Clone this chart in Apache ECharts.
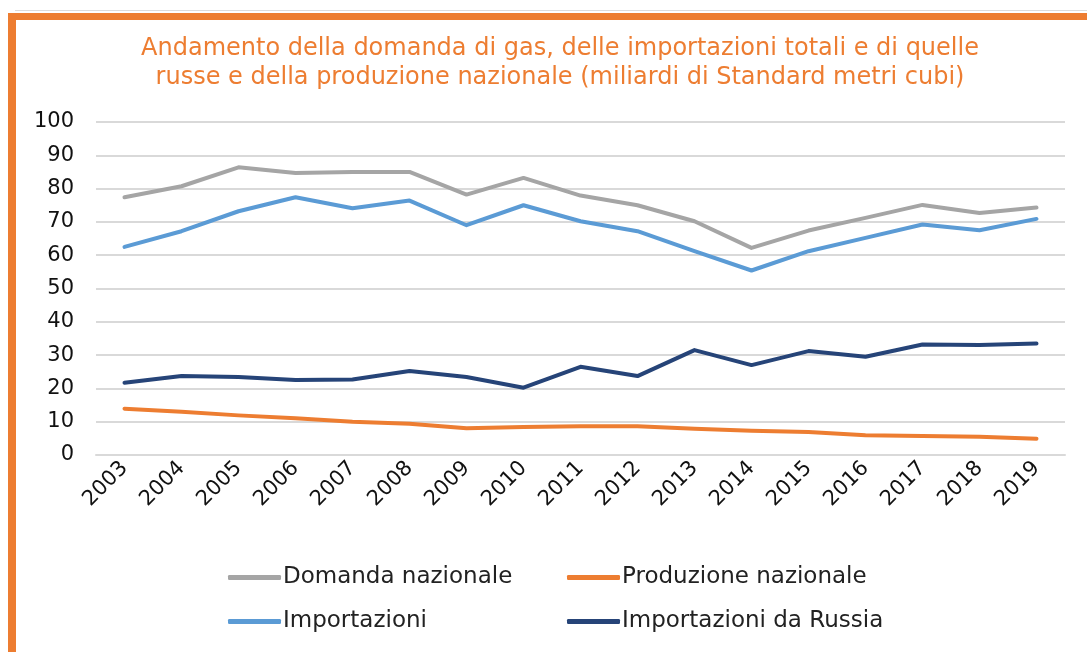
<!DOCTYPE html>
<html lang="it">
<head>
    <meta charset="UTF-8">
    <title>gas</title>
    <script src="https://cdn.jsdelivr.net/npm/echarts@6/dist/echarts.min.js"></script>
    <style>
        body{ margin:0; background:#fff; }
        #main{ position:absolute; left:0; top:0; width:1087px; height:652px; }
        .frame{
            position:absolute; left:8px; top:13px; right:0; bottom:0;
            border-top:7px solid #ED7D31;
            border-left:8px solid #ED7D31;
            pointer-events:none;
        }
        .topline{ position:absolute; left:15px; right:0; top:10px; height:1px; background:#dcdcdc; }
    </style>
</head>
<body>
    <div id="main"></div>
    <div class="topline"></div>
    <div class="frame"></div>
<script>
    var anni = ['2003','2004','2005','2006','2007','2008','2009','2010','2011','2012','2013','2014','2015','2016','2017','2018','2019'];
    var domanda = [77.4, 80.7, 86.4, 84.7, 85.0, 85.0, 78.2, 83.2, 77.9, 75.0, 70.2, 62.2, 67.4, 71.2, 75.1, 72.7, 74.3];
    var produzione = [13.9, 13.0, 11.9, 11.0, 10.0, 9.4, 8.0, 8.4, 8.6, 8.6, 7.9, 7.3, 6.9, 5.9, 5.7, 5.5, 4.9];
    var importazioni = [62.5, 67.2, 73.2, 77.4, 74.1, 76.4, 69.0, 75.0, 70.2, 67.2, 61.2, 55.4, 61.2, 65.2, 69.2, 67.5, 70.9];
    var russia = [21.7, 23.7, 23.4, 22.5, 22.7, 25.2, 23.4, 20.2, 26.5, 23.7, 31.5, 27.0, 31.2, 29.5, 33.2, 33.0, 33.5];

    var font = 'DejaVu Sans';
    var myChart = echarts.init(document.getElementById('main'));

    function linea(nome, dati, colore){
        return {
            name: nome,
            type: 'line',
            data: dati,
            symbol: 'none',
            lineStyle: { color: colore, width: 4, cap: 'round', join: 'round' },
            itemStyle: { color: colore }
        };
    }

    // due colonne di legenda, come nell'originale
    var legendaBase = {
        orient: 'vertical',
        itemWidth: 53,
        itemHeight: 5,
        itemGap: 21,
        icon: 'roundRect',
        textStyle: { fontFamily: font, fontSize: 23, color: '#222', padding: [0, 0, 0, -3] }
    };

    var option = {
        animation: false,
        title: {
            text: 'Andamento della domanda di gas, delle importazioni totali e di quelle\nrusse e della produzione nazionale (miliardi di Standard metri cubi)',
            left: 555,
            textAlign: 'center',
            top: 29,
            textStyle: { fontFamily: font, fontSize: 24, fontWeight: 'normal', color: '#ED7D31', lineHeight: 29 }
        },
        legend: [
            Object.assign({}, legendaBase, { left: 223, top: 561, data: ['Domanda nazionale', 'Importazioni'] }),
            Object.assign({}, legendaBase, { left: 562, top: 561, data: ['Produzione nazionale', 'Importazioni da Russia'] })
        ],
        grid: { left: 96, right: 22, top: 122, bottom: 197, containLabel: false },
        xAxis: {
            type: 'category',
            data: anni,
            boundaryGap: true,
            axisLine: { show: true, lineStyle: { color: '#d9d9d9', width: 2 } },
            axisTick: { show: false },
            axisLabel: { rotate: 45, margin: 10, fontFamily: font, fontSize: 21, color: '#111', interval: 0 }
        },
        yAxis: {
            type: 'value',
            min: 0,
            max: 100,
            interval: 10,
            axisLine: { show: false },
            axisTick: { show: false },
            axisLabel: { margin: 22, fontFamily: font, fontSize: 21, color: '#111' },
            splitLine: { lineStyle: { color: '#d9d9d9', width: 2 } }
        },
        series: [
            linea('Domanda nazionale', domanda, '#A5A5A5'),
            linea('Produzione nazionale', produzione, '#ED7D31'),
            linea('Importazioni', importazioni, '#5B9BD5'),
            linea('Importazioni da Russia', russia, '#264478')
        ]
    };

    myChart.setOption(option);
</script>
</body>
</html>
